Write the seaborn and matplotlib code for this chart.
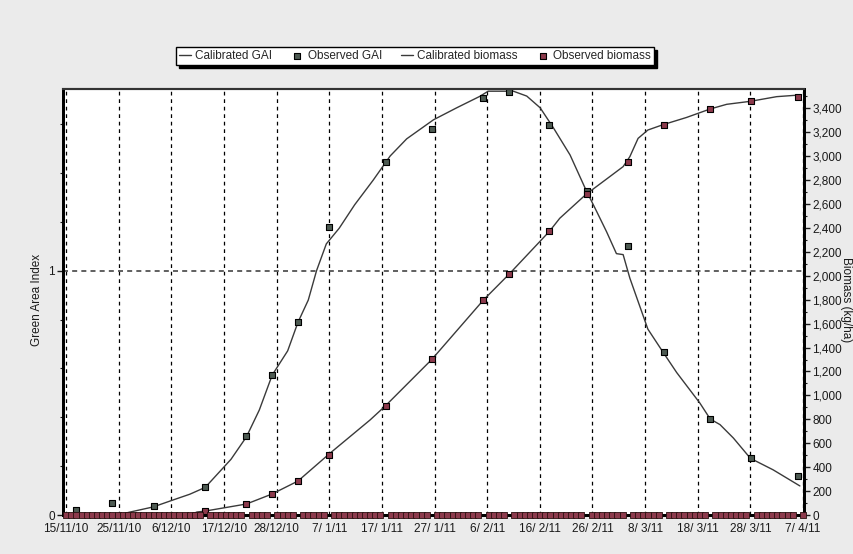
import numpy as np
import pandas as pd
import matplotlib
matplotlib.use("Agg")
import matplotlib.pyplot as plt
from matplotlib.ticker import FixedLocator, MultipleLocator, FuncFormatter
import seaborn as sns

# days counted from 15/11/10
tick_labels = ["15/11/10", "25/11/10", "6/12/10", "17/12/10", "28/12/10", "7/ 1/11",
               "17/ 1/11", "27/ 1/11", "6/ 2/11", "16/ 2/11", "26/ 2/11", "8/ 3/11",
               "18/ 3/11", "28/ 3/11", "7/ 4/11"]
season_days = 143

obs_gai_day = [2, 9, 17, 27, 35, 40, 45, 51, 62, 71, 81, 86, 93.8, 101, 109, 116, 125, 133, 142]
obs_gai = [0.02, 0.049, 0.037, 0.113, 0.325, 0.573, 0.789, 1.179, 1.446, 1.579, 1.708, 1.730,
           1.598, 1.328, 1.101, 0.668, 0.393, 0.232, 0.160]

cal_gai_day = [10, 12.4, 16.9, 21.1, 24, 27, 32, 35, 37.5, 40, 43, 45, 47, 48.6, 50.5, 53, 56,
               59.6, 62.9, 66.1, 71.3, 75.8, 80.3, 81.9, 86.8, 89.4, 92, 94.6, 97.8, 100.9, 103,
               104.9, 106.8, 108.1, 109.4, 112.9, 115.8, 118.5, 123, 125, 126.9, 129.5, 132.8,
               137.2, 142.4]
cal_gai = [0.0, 0.012, 0.033, 0.064, 0.085, 0.113, 0.228, 0.32, 0.43, 0.573, 0.672, 0.789, 0.88,
           1.0, 1.11, 1.174, 1.27, 1.371, 1.47, 1.54, 1.618, 1.667, 1.714, 1.735, 1.735, 1.715,
           1.667, 1.584, 1.474, 1.33, 1.241, 1.159, 1.07, 1.066, 0.97, 0.761, 0.668, 0.583, 0.458,
           0.393, 0.37, 0.315, 0.232, 0.185, 0.119]

obs_bio_day = [27, 35, 40, 45, 51, 62, 71, 81, 86, 93.8, 101, 109, 116, 125, 133, 142]
obs_bio = [33, 92, 176, 284, 502, 914, 1302, 1798, 2015, 2372, 2681, 2951, 3263, 3395, 3459, 3498]

cal_bio_day = [24, 25.4, 27, 35, 40, 45, 51.2, 59, 62, 71, 81, 86, 93.8, 95.8, 100.9, 105.5,
               108.1, 109.4, 111, 112.9, 115.8, 120.4, 125, 128.2, 132.8, 137.9, 142.4]
cal_bio = [0, 25, 33, 92, 176, 284, 516, 795, 914, 1302, 1798, 2015, 2372, 2481, 2681, 2829,
           2913, 2996, 3149, 3219, 3263, 3324, 3395, 3434, 3459, 3498, 3512]

# days with a recorded biomass of zero (bottom row of markers)
zero_bio_day = [d for d in range(0, season_days + 1) if d not in obs_bio_day]

sns.set_style("white")
plt.rcParams["font.family"] = ["Liberation Sans", "DejaVu Sans"]

fig = plt.figure(figsize=(8.54, 5.54), dpi=100, facecolor="#ebebeb")
ax = fig.add_axes([63 / 854, 39 / 554, 741 / 854, 426 / 554])
ax.set_facecolor("white")
ax2 = ax.twinx()

line_col = "#3a3a3a"
gai_col = "#4d5a52"
bio_col = "#8c3a4c"

sns.lineplot(x=cal_gai_day, y=cal_gai, ax=ax, color=line_col, lw=1.0, label="Calibrated GAI",
             legend=False, zorder=4)
sns.scatterplot(x=obs_gai_day, y=obs_gai, ax=ax, marker="s", s=22, color=gai_col,
                edgecolor="black", linewidth=0.8, label="Observed GAI", legend=False, zorder=5,
                clip_on=False)

sns.lineplot(x=cal_bio_day, y=cal_bio, ax=ax2, color=line_col, lw=1.0, label="Calibrated biomass",
             legend=False, zorder=4)
sns.scatterplot(x=zero_bio_day, y=[0] * len(zero_bio_day), ax=ax2, marker="s", s=16,
                color=bio_col, edgecolor="#2a1010", linewidth=0.6, legend=False, zorder=6,
                clip_on=False)
sns.scatterplot(x=obs_bio_day, y=obs_bio, ax=ax2, marker="s", s=22, color=bio_col,
                edgecolor="black", linewidth=0.8, label="Observed biomass", legend=False, zorder=5,
                clip_on=False)

# x axis
xt = np.linspace(0, season_days, len(tick_labels))
ax.set_xlim(-0.6, 143.2)
ax.xaxis.set_major_locator(FixedLocator(xt))
ax.set_xticklabels(tick_labels)
step = xt[1] - xt[0]
ax.xaxis.set_minor_locator(FixedLocator(np.arange(0, season_days + 0.1, step / 4)))
ax.grid(axis="x", which="major", color="black", linestyle=(0, (3, 3)), lw=0.9)

# left axis
ax.set_ylim(0, 1.744)
ax.set_yticks([0, 1])
ax.set_yticklabels(["0", "1"])
ax.yaxis.set_minor_locator(MultipleLocator(0.2))
ax.grid(axis="y", which="major", color="#444444", linestyle=(0, (3, 2.5)), lw=1.2)

# right axis
ax2.set_ylim(0, 3562)
ax2.yaxis.set_major_locator(FixedLocator(np.arange(0, 3401, 200)))
ax2.yaxis.set_minor_locator(MultipleLocator(100))
ax2.yaxis.set_major_formatter(FuncFormatter(lambda v, p: f"{int(v):,}"))
ax2.set_xlim(ax.get_xlim())

for a in (ax, ax2):
    a.set_xlabel("")
    a.set_ylabel("")
    a.tick_params(which="major", direction="out", length=4, width=1, colors="#1a1a1a",
                  labelsize=8.5, pad=2)
    a.tick_params(which="minor", direction="out", length=2.5, width=0.8, colors="#1a1a1a")
    for side in ("left", "right", "bottom"):
        a.spines[side].set_color("black")
        a.spines[side].set_linewidth(2)
    a.spines["top"].set_color("#333333")
    a.spines["top"].set_linewidth(1.5)

fig.text(37 / 854, 1 - 300 / 554, "Green Area Index", rotation=90, ha="center", va="center",
         fontsize=8.5, color="#1a1a1a")
fig.text(846 / 854, 1 - 300 / 554, "Biomass (kg/ha)", rotation=270, ha="center", va="center",
         fontsize=8.5, color="#1a1a1a")

h1, l1 = ax.get_legend_handles_labels()
h2, l2 = ax2.get_legend_handles_labels()
leg = fig.legend(h1 + h2, l1 + l2, loc="center", bbox_to_anchor=(415 / 854, 1 - 56 / 554),
                 ncol=4, fontsize=8.5, frameon=True, fancybox=False, edgecolor="black",
                 framealpha=1, handlelength=1.0, handletextpad=0.4, columnspacing=1.6,
                 borderpad=0.25, markerscale=0.8, shadow={"color": "black", "alpha": 1})
leg.get_frame().set_linewidth(1.0)

fig.savefig("out.png", dpi=100, facecolor=fig.get_facecolor())
